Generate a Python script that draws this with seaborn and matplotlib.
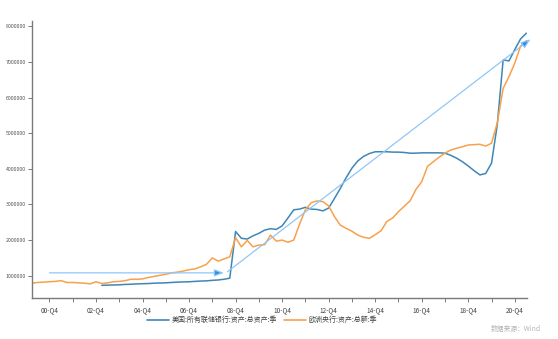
import numpy as np
import pandas as pd
import matplotlib
matplotlib.use("Agg")
import matplotlib.pyplot as plt
import seaborn as sns
from matplotlib.lines import Line2D

# ---------------- data ----------------
years = list(range(2000, 2022))
quarters = [f"{y}-Q{q}" for y in years for q in range(1, 5)][:86]  # 2000-Q1 .. 2021-Q2

fed_start = 12  # first quarter index with Fed data
fed_values = [
    0.73, 0.735, 0.74, 0.745, 0.755, 0.76, 0.77, 0.775, 0.78, 0.79,   # 12-21
    0.795, 0.80, 0.81, 0.82, 0.825, 0.83, 0.84, 0.85, 0.855, 0.87,     # 22-31
    0.88, 0.90, 0.93, 2.24, 2.05, 2.03, 2.12, 2.19, 2.28, 2.32,        # 32-41
    2.30, 2.40, 2.62, 2.85, 2.87, 2.92, 2.87, 2.86, 2.82, 2.90,        # 42-51
    3.17, 3.45, 3.75, 4.02, 4.22, 4.35, 4.43, 4.48, 4.48, 4.48,        # 52-61
    4.47, 4.47, 4.46, 4.44, 4.44, 4.45, 4.45, 4.45, 4.45, 4.44,        # 62-71
    4.38, 4.30, 4.20, 4.08, 3.95, 3.83, 3.87, 4.16, 5.25, 7.06,        # 72-81
    7.03, 7.35, 7.65, 7.81,                                             # 82-85
]
ecb_values = [
    0.79, 0.81, 0.82, 0.83, 0.84, 0.86, 0.81, 0.81, 0.80, 0.79,        # 0-9
    0.77, 0.83, 0.78, 0.80, 0.83, 0.84, 0.86, 0.90, 0.90, 0.91,        # 10-19
    0.95, 0.98, 1.01, 1.04, 1.08, 1.10, 1.13, 1.17, 1.19, 1.25,        # 20-29
    1.32, 1.50, 1.41, 1.47, 1.53, 2.07, 1.81, 1.99, 1.81, 1.86,        # 30-39
    1.87, 2.14, 1.97, 2.00, 1.94, 2.00, 2.45, 2.85, 3.05, 3.10,        # 40-49
    3.08, 2.96, 2.66, 2.42, 2.33, 2.25, 2.14, 2.08, 2.05, 2.15,        # 50-59
    2.26, 2.52, 2.62, 2.80, 2.95, 3.10, 3.42, 3.64, 4.07, 4.20,        # 60-69
    4.33, 4.44, 4.53, 4.58, 4.62, 4.67, 4.68, 4.69, 4.64, 4.72,        # 70-79
    5.30, 6.26, 6.59, 6.97, 7.45, 7.60,                                 # 80-85
]
series_names = ["美国:所有联储银行:资产:总资产:季", "欧洲央行:资产:总额:季"]

tick_labels = [f"{y % 100:02d}-Q4" for y in range(2000, 2021, 2)]
y_ticks = [1000000, 2000000, 3000000, 4000000, 5000000, 6000000, 7000000, 8000000]

# annotation arrows (quarter index, value in millions)
arrow1_start = (3, 1.08)
arrow1_end = (33, 1.08)
arrow2_start = (33.6, 1.11)
arrow2_end = (85.7, 7.64)

# ---------------- frame ----------------
rows = []
for i, v in enumerate(fed_values):
    rows.append({"q": fed_start + i, "value": v * 1e6, "series": series_names[0]})
for i, v in enumerate(ecb_values):
    rows.append({"q": i, "value": v * 1e6, "series": series_names[1]})
df = pd.DataFrame(rows)

sns.set_style("white")
plt.rcParams["font.family"] = ["Noto Sans CJK SC", "DejaVu Sans"]

fig = plt.figure(figsize=(5.58, 3.39), dpi=100)
ax = fig.add_axes([32 / 558, 1 - 298 / 339, (527 - 32) / 558, (298 - 20.7) / 339])

blue = "#3f86b8"
orange = "#f9a04b"
sns.lineplot(data=df, x="q", y="value", hue="series", palette=[blue, orange],
             linewidth=1.1, ax=ax, legend=False, sort=True)

# arrows: light shaft, small vivid head
arr_col = "#90c6f6"
for (s, e) in [(arrow1_start, arrow1_end), (arrow2_start, arrow2_end)]:
    ax.annotate("", xy=(e[0], e[1] * 1e6), xytext=(s[0], s[1] * 1e6),
                arrowprops=dict(arrowstyle="-|>,head_length=0.8,head_width=0.3",
                                color=arr_col, lw=0.9, mutation_scale=7,
                                fc="#2a8ef0", ec=arr_col, shrinkA=0, shrinkB=0),
                annotation_clip=False)

ax.set_xlim(0, 85.1)
ax.set_ylim(374000, 8160000)
ax.set_xlabel("")
ax.set_ylabel("")

major = [3 + 8 * k for k in range(len(tick_labels))]
minor = [7 + 8 * k for k in range(len(tick_labels) - 1)]
ax.set_xticks(major)
ax.set_xticklabels(tick_labels)
ax.set_xticks(minor, minor=True)
ax.set_yticks(y_ticks)
ax.set_yticklabels([str(v) for v in y_ticks])

for s in ["top", "right"]:
    ax.spines[s].set_visible(False)
for s in ["left", "bottom"]:
    ax.spines[s].set_color("#7a7a7a")
    ax.spines[s].set_linewidth(1.0)

ax.tick_params(axis="x", which="both", direction="out", length=3, width=0.7,
               color="#7a7a7a", labelsize=4.6, labelcolor="#404040", pad=3, bottom=True)
ax.tick_params(axis="y", which="major", direction="out", length=3, width=0.7,
               color="#7a7a7a", labelsize=3.8, labelcolor="#505050", pad=1.5, left=True)

handles = [Line2D([], [], color=blue, lw=1.2), Line2D([], [], color=orange, lw=1.2)]
fig.legend(handles, series_names, loc="center", bbox_to_anchor=(262 / 558, 1 - 320 / 339),
           ncol=2, frameon=False, fontsize=5, handlelength=3.2, handletextpad=0.3,
           columnspacing=1.0, labelcolor="#404040")

fig.text(541 / 558, 1 - 329 / 339, "数据来源：Wind", ha="right", va="center",
         fontsize=4.9, color="#b4b4b4")

fig.savefig("out.png", dpi=100)
